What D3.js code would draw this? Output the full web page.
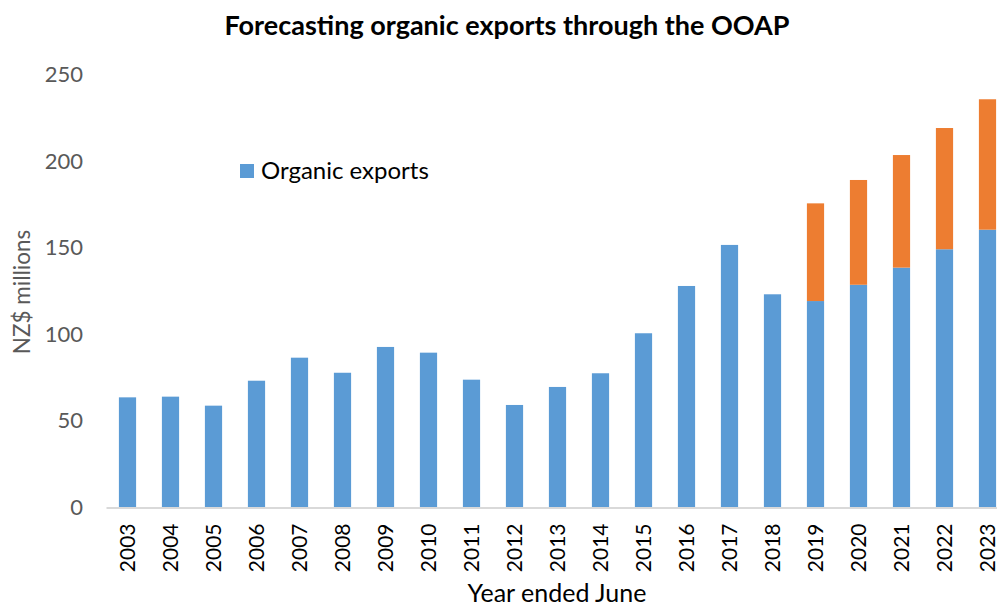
<!DOCTYPE html>
<html>
<head>
<meta charset="utf-8">
<script src="https://cdn.jsdelivr.net/npm/d3@7"></script>
<style>
  body { margin: 0; background: #fff; }
  svg { display: block; font-family: Lato, "Open Sans", sans-serif; }
</style>
</head>
<body>
<script>
const svgWidth = 997
const svgHeight = 608

const years = ["2003","2004","2005","2006","2007","2008","2009","2010","2011","2012","2013",
    "2014","2015","2016","2017","2018","2019","2020","2021","2022","2023"]
const organicExports = [63.6, 64, 58.8, 73.2, 86.5, 77.8, 92.7, 89.4, 73.8, 59.2, 69.6,
    77.5, 100.6, 127.9, 151.6, 123.1, 119.2, 128.6, 138.5, 149.1, 160.4]
const ooapGrowth = [0, 0, 0, 0, 0, 0, 0, 0, 0, 0, 0,
    0, 0, 0, 0, 0, 56.4, 60.5, 65, 70, 75.3]
const yTicks = [0, 50, 100, 150, 200, 250]

const colorBlue = "#5B9BD5"
const colorOrange = "#ED7D31"

const plot = { left: 106, bottom: 507.5 }

const svg = d3.select("body").append("svg")
    .attr("width", svgWidth)
    .attr("height", svgHeight)

const x = d3.scaleBand()
    .domain(years)
    .range([plot.left, plot.left + 43 * years.length])
    .paddingInner(0.6)
    .paddingOuter(0.3)

const y = d3.scaleLinear()
    .domain([0, 250])
    .range([plot.bottom, plot.bottom - 433])

const rows = years.map((yr, i) => ({ year: yr, organic: organicExports[i], ooap: ooapGrowth[i] }))
const stacked = d3.stack().keys(["organic", "ooap"])(rows)
const colors = { organic: colorBlue, ooap: colorOrange }

// bars
svg.append("g")
    .selectAll("g")
    .data(stacked)
    .join("g")
    .attr("fill", d => colors[d.key])
    .selectAll("rect")
    .data(d => d.filter(p => p[1] > p[0]))
    .join("rect")
    .attr("x", d => x(d.data.year))
    .attr("width", x.bandwidth())
    .attr("y", d => y(d[1]))
    .attr("height", d => y(d[0]) - y(d[1]))

// y axis (labels only)
const yAxis = svg.append("g")
    .attr("transform", `translate(83, 0)`)
    .call(d3.axisLeft(y).tickValues(yTicks).tickSize(0).tickPadding(0))
yAxis.select(".domain").remove()
yAxis.selectAll("text")
    .attr("fill", "#595959")
    .attr("font-size", 22)
    .attr("font-family", "Lato, sans-serif")

// x axis
const xAxis = svg.append("g")
    .attr("transform", `translate(0, ${plot.bottom})`)
    .call(d3.axisBottom(x).tickSize(0))
xAxis.select(".domain")
    .attr("stroke", "#d9d9d9")
    .attr("stroke-width", 2)
xAxis.selectAll("text")
    .attr("fill", "#000")
    .attr("font-size", 21)
    .attr("font-family", "Lato, sans-serif")
    .attr("transform", "rotate(-90)")
    .attr("text-anchor", "end")
    .attr("x", -16)
    .attr("y", 0)
    .attr("dy", "0.35em")

// title
svg.append("text")
    .attr("x", 507)
    .attr("y", 35)
    .attr("text-anchor", "middle")
    .attr("font-weight", "bold")
    .attr("font-size", 27)
    .attr("fill", "#000")
    .text("Forecasting organic exports through the OOAP")

// axis titles
svg.append("text")
    .attr("transform", "translate(30, 292) rotate(-90)")
    .attr("text-anchor", "middle")
    .attr("font-size", 22.5)
    .attr("fill", "#595959")
    .text("NZ$ millions")

svg.append("text")
    .attr("x", 557)
    .attr("y", 602)
    .attr("text-anchor", "middle")
    .attr("font-size", 25)
    .attr("fill", "#000")
    .text("Year ended June")

// legend
const legend = svg.append("g").attr("transform", "translate(240, 164)")
legend.append("rect")
    .attr("width", 14)
    .attr("height", 14)
    .attr("fill", colorBlue)
legend.append("text")
    .attr("x", 21)
    .attr("y", 15)
    .attr("font-size", 24)
    .attr("fill", "#000")
    .text("Organic exports")
</script>
</body>
</html>
